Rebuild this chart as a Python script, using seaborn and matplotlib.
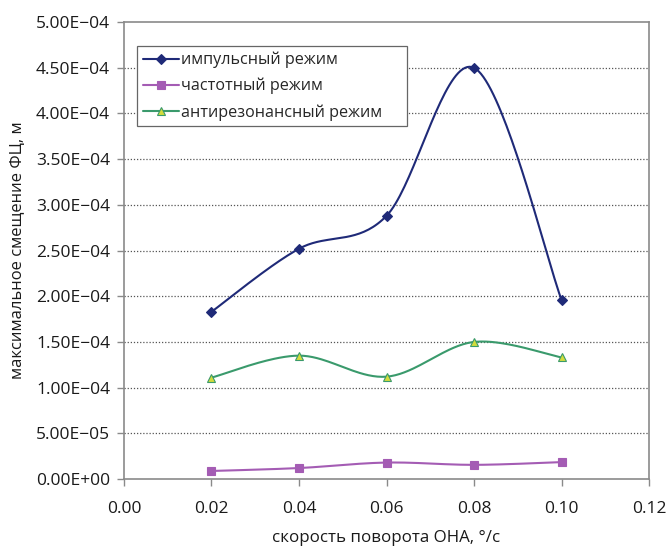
import numpy as np
import pandas as pd
import matplotlib
matplotlib.use("Agg")
import matplotlib.pyplot as plt
import seaborn as sns
from matplotlib.patches import Rectangle
from matplotlib.ticker import FuncFormatter

# Rotation speed of the antenna, deg/s
speed = [0.02, 0.04, 0.06, 0.08, 0.10]

# Maximum phase-centre displacement, m
impulse = [1.83e-4, 2.52e-4, 2.88e-4, 4.50e-4, 1.96e-4]
frequency = [0.88e-5, 1.2e-5, 1.8e-5, 1.55e-5, 1.85e-5]
antiresonant = [1.11e-4, 1.35e-4, 1.12e-4, 1.50e-4, 1.33e-4]

series_names = ["импульсный режим", "частотный режим", "антирезонансный режим"]
x_ticks = [0.00, 0.02, 0.04, 0.06, 0.08, 0.10, 0.12]
y_ticks = np.arange(0, 5.01e-4, 5e-5)


def smooth(xs, ys, n=40):
    """Spreadsheet-style smoothed line: cubic Bezier segments with
    Catmull-Rom control points (1/6 factor), end points duplicated."""
    xs = np.asarray(xs, float)
    ys = np.asarray(ys, float)
    P = np.column_stack([xs, ys])
    P = np.vstack([P[0], P, P[-1]])
    out = []
    t = np.linspace(0, 1, n)[:, None]
    for i in range(1, len(P) - 2):
        p0, p1, p2, p3 = P[i - 1], P[i], P[i + 1], P[i + 2]
        c1 = p1 + (p2 - p0) / 6
        c2 = p2 - (p3 - p1) / 6
        seg = ((1 - t) ** 3) * p1 + 3 * ((1 - t) ** 2) * t * c1 \
            + 3 * (1 - t) * t ** 2 * c2 + t ** 3 * p2
        out.append(seg if i == 1 else seg[1:])
    out = np.vstack(out)
    return out[:, 0], out[:, 1]


sns.set_theme(style="white")
plt.rcParams["font.family"] = ["Open Sans", "DejaVu Sans"]

fig = plt.figure(figsize=(6.68, 5.53), dpi=100)
ax = fig.add_axes([0.1856, 0.1338, 0.786, 0.8262])

styles = [
    dict(line="#1f2a78", marker="D", mface="#1f2a78", medge="#1f2a78", ms=5),
    dict(line="#a45cb4", marker="s", mface="#a45cb4", medge="#a45cb4", ms=6),
    dict(line="#3a9a6c", marker="^", mface="#d2dc3c", medge="#3a9a6c", ms=6),
]

handles = []
for name, vals, st in zip(series_names, [impulse, frequency, antiresonant], styles):
    sx, sy = smooth(speed, vals)
    curve = pd.DataFrame({"x": sx, "y": sy})
    sns.lineplot(data=curve, x="x", y="y", ax=ax, color=st["line"], lw=1.5,
                 sort=False, estimator=None)
    pts = pd.DataFrame({"x": speed, "y": vals})
    ax.plot(pts["x"], pts["y"], linestyle="none", marker=st["marker"],
            ms=st["ms"], mfc=st["mface"], mec=st["medge"], mew=0.8, zorder=4)
    h, = ax.plot([], [], color=st["line"], lw=1.5, marker=st["marker"],
                 ms=st["ms"], mfc=st["mface"], mec=st["medge"], mew=0.8)
    handles.append(h)

ax.set_xlim(0, 0.12)
ax.set_ylim(0, 5e-4)
ax.set_xticks(x_ticks)
ax.set_yticks(y_ticks)
ax.xaxis.set_major_formatter(FuncFormatter(lambda v, p: f"{v:.2f}"))


def sci(v, p):
    if abs(v) < 1e-12:
        return "0.00E+00"
    e = int(np.floor(np.log10(abs(v)) + 1e-9))
    m = v / 10 ** e
    sign = "+" if e >= 0 else "\u2212"
    return f"{m:.2f}E{sign}{abs(e):02d}"


ax.yaxis.set_major_formatter(FuncFormatter(sci))

for yv in y_ticks[1:-1]:
    ax.axhline(yv, color="#555555", lw=0.9, ls=(0, (1, 1.5)), zorder=1)

for s in ax.spines.values():
    s.set_visible(True)
    s.set_color("#8a8a8a")
    s.set_linewidth(1.2)

ax.tick_params(axis="both", which="major", direction="out", length=5,
               width=1, color="#8a8a8a", labelsize=12.5, labelcolor="#1a1a1a",
               left=True, bottom=True, pad=5)
ax.tick_params(axis="x", pad=11)

ax.set_xlabel("скорость поворота ОНА, °/с", fontsize=12.2, color="#1a1a1a",
              labelpad=9)
ax.set_ylabel("максимальное смещение ФЦ, м", fontsize=12, color="#1a1a1a",
              labelpad=7)

# legend box: white panel with a thin frame, entries drawn on top
ax.add_patch(Rectangle((0.0248, 0.7724), 0.5142, 0.1751,
                       transform=ax.transAxes, facecolor="white",
                       edgecolor="#666666", lw=0.9, zorder=5))
leg = ax.legend(handles, series_names, loc="upper left",
                bbox_to_anchor=(0.0248, 0.9475), fontsize=11.6, frameon=False,
                handlelength=2.25, handletextpad=0.15, borderpad=0.35,
                labelspacing=0.6, borderaxespad=0)
leg.set_zorder(6)

fig.savefig("out.png", dpi=100)
